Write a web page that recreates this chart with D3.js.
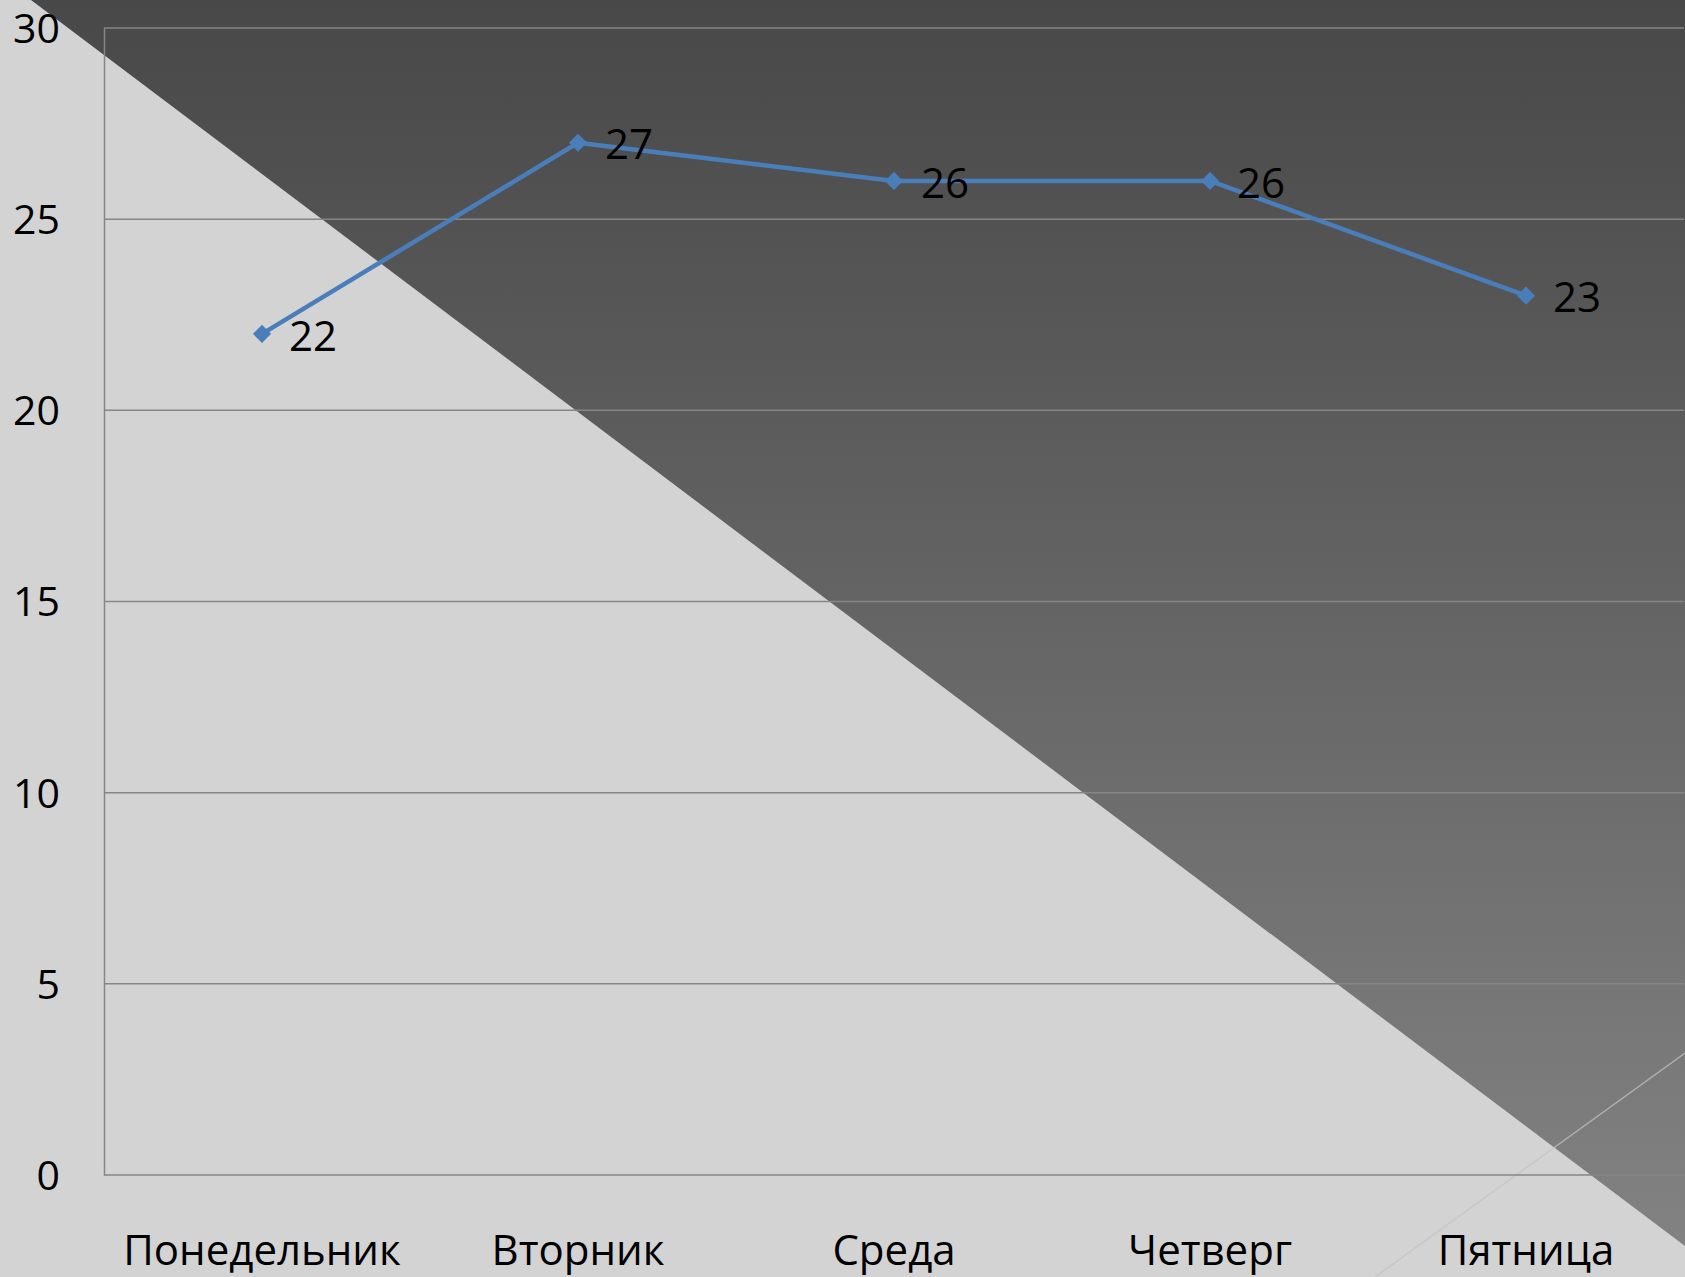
<!DOCTYPE html>
<html>
<head>
<meta charset="utf-8">
<script src="https://cdn.jsdelivr.net/npm/d3@7"></script>
<style>
  body { margin: 0; background: #d3d3d3; overflow: hidden; }
  text { font-family: "Open Sans", sans-serif; fill: #000; }
</style>
</head>
<body>
<script>
// chart data
const days = ["Понедельник", "Вторник", "Среда", "Четверг", "Пятница"];
const values = [22, 27, 26, 26, 23];
const yTicks = [0, 5, 10, 15, 20, 25, 30];

const W = 1685, H = 1277;
const margin = { top: 28, bottom: 102, left: 104, right: 1 };
const width = W - margin.left - margin.right;
const height = H - margin.top - margin.bottom;

const svg = d3.select("body").append("svg")
  .attr("width", W)
  .attr("height", H);

// background: light gray with a dark diagonal wedge
const defs = svg.append("defs");
const grad = defs.append("linearGradient")
  .attr("id", "dark")
  .attr("gradientUnits", "userSpaceOnUse")
  .attr("x1", 0).attr("y1", 0).attr("x2", 0).attr("y2", 1246);
grad.append("stop").attr("offset", 0).attr("stop-color", "#484848");
grad.append("stop").attr("offset", 1).attr("stop-color", "#828282");

svg.append("rect").attr("width", W).attr("height", H).attr("fill", "#d3d3d3");
svg.append("path")
  .attr("d", "M31,0 L1685,0 L1685,1246 Z")
  .attr("fill", "url(#dark)");
svg.append("line")
  .attr("x1", 1375).attr("y1", 1277).attr("x2", 1685).attr("y2", 1053)
  .attr("stroke", "#c4c4c4").attr("stroke-width", 1.5).attr("opacity", 0.7);

const g = svg.append("g")
  .attr("transform", `translate(${margin.left},${margin.top})`);

// scales
const xscale = d3.scaleBand().domain(days).range([0, width]);
const yscale = d3.scaleLinear().domain([0, 30]).range([height, 0]);

// gridlines
g.append("g")
  .selectAll("line")
  .data(yTicks)
  .join("line")
  .attr("x1", 0).attr("x2", width)
  .attr("y1", (d) => yscale(d)).attr("y2", (d) => yscale(d))
  .attr("stroke", "#868686")
  .attr("stroke-width", 1.5);

// y axis
const yaxis = d3.axisLeft(yscale).tickValues(yTicks).tickSize(0).tickPadding(44);
const g_yaxis = g.append("g").call(yaxis);
g_yaxis.select(".domain").attr("stroke", "#868686").attr("stroke-width", 1.5);
g_yaxis.selectAll("text").style("font-size", "41px").attr("dy", "0.35em");

// x axis
const xaxis = d3.axisBottom(xscale).tickSize(0).tickPadding(60);
const g_xaxis = g.append("g").attr("transform", `translate(0,${height})`).call(xaxis);
g_xaxis.select(".domain").remove();
g_xaxis.selectAll("text").style("font-size", "42px");

// line
const cx = (d, i) => xscale(days[i]) + xscale.bandwidth() / 2;
const line = d3.line().x((d, i) => cx(d, i)).y((d) => yscale(d));

g.append("path")
  .datum(values)
  .attr("d", line)
  .attr("fill", "none")
  .attr("stroke", "#4a7ebb")
  .attr("stroke-width", 4.5)
  .attr("stroke-linejoin", "round");

g.selectAll(".marker")
  .data(values)
  .join("path")
  .attr("class", "marker")
  .attr("d", d3.symbol().type(d3.symbolDiamond2).size(210))
  .attr("transform", (d, i) => `translate(${cx(d, i)},${yscale(d)})`)
  .attr("fill", "#4a7ebb");

// data labels
g.selectAll(".label")
  .data(values)
  .join("text")
  .attr("class", "label")
  .attr("x", (d, i) => cx(d, i) + 27)
  .attr("y", (d) => yscale(d) + 2)
  .attr("dy", "0.35em")
  .style("font-size", "42px")
  .text((d) => d);
</script>
</body>
</html>
